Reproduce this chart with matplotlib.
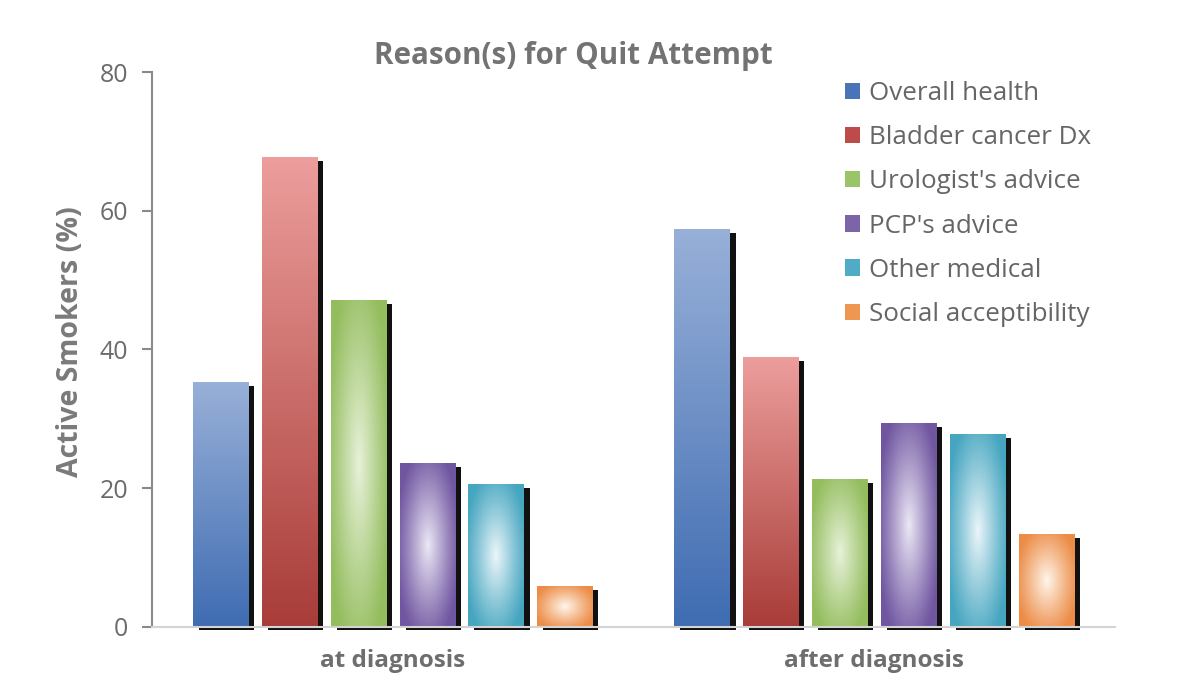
import numpy as np
import matplotlib
matplotlib.use("Agg")
import matplotlib.pyplot as plt
from matplotlib.patches import Rectangle, Patch

# ---- data ----
groups = ["at diagnosis", "after diagnosis"]
series = ["Overall health", "Bladder cancer Dx", "Urologist's advice",
          "PCP's advice", "Other medical", "Social acceptibility"]
at_diagnosis = [35.2, 67.7, 47.1, 23.5, 20.5, 5.8]
after_diagnosis = [57.3, 38.8, 21.2, 29.3, 27.7, 13.3]
yticks = [0, 20, 40, 60, 80]

# ---- styles ----
# (kind, colorA, colorB): linear -> (top, bottom); radial -> (edge, center)
styles = [
    ("linear", (152, 176, 216), (63, 108, 178)),
    ("linear", (236, 158, 156), (168, 60, 56)),
    ("radial", (148, 189, 94), (232, 242, 218)),
    ("radial", (112, 86, 160), (236, 232, 246)),
    ("radial", (70, 166, 192), (236, 246, 250)),
    ("radial", (236, 140, 70), (255, 246, 236)),
]
legend_cols = ["#4a74b8", "#bd4b49", "#9ac46a", "#7c64a8", "#4fabc6", "#ee9752"]

plt.rcParams['font.family'] = ['Open Sans', 'DejaVu Sans']

fig = plt.figure(figsize=(12, 6.89), dpi=100)
ax = fig.add_axes([0.1267, 0.09, 0.8023, 0.8055])


def grad_img(kind, ca, cb, ny=200, nx=60):
    ca = np.array(ca) / 255.0
    cb = np.array(cb) / 255.0
    yy, xx = np.mgrid[0:1:ny * 1j, 0:1:nx * 1j]
    if kind == "linear":
        t = yy[..., None]  # 0 top -> 1 bottom
        img = ca * (1 - t) + cb * t
    else:
        r = np.sqrt(((xx - 0.5) / 0.58) ** 2 + ((yy - 0.5) / 0.62) ** 2)
        w = np.clip(1 - r, 0, 1) ** 1.1
        w = w[..., None]
        img = ca * (1 - w) + cb * w
    return img


step = 0.143
width = 0.1146
dx_sh = 6 / 480.0
dy_sh = 3.5 / 6.94
for gi, vals in enumerate([at_diagnosis, after_diagnosis]):
    for si, v in enumerate(vals):
        xc = gi + (si - 2.5) * step
        x0, x1 = xc - width / 2, xc + width / 2
        sh = Rectangle((x0 + dx_sh, -dy_sh), width, v, facecolor="#111111",
                       edgecolor="none", zorder=2, clip_on=False)
        ax.add_patch(sh)
        kind, ca, cb = styles[si]
        img = grad_img(kind, ca, cb)
        ax.imshow(img, extent=(x0, x1, 0, v), aspect="auto", zorder=3,
                  interpolation="bilinear")

ax.set_xlim(-0.5, 1.5)
ax.set_ylim(0, 80)
ax.set_yticks(yticks)
ax.set_xticks([0, 1])
ax.set_xticklabels(groups, fontsize=17.5, fontweight="bold", color="#6e6e6e")
ax.tick_params(axis="x", length=0, pad=16)
ax.tick_params(axis="y", length=7, width=1.5, color="#8a8a8a",
               labelsize=18, labelcolor="#6b6b6b", pad=10)
for s in ["top", "right"]:
    ax.spines[s].set_visible(False)
ax.spines["left"].set_color("#8a8a8a")
ax.spines["left"].set_linewidth(1.5)
ax.spines["bottom"].set_color("#d4d4d4")
ax.spines["bottom"].set_linewidth(1.5)
ax.spines["bottom"].set_zorder(4)

ax.set_ylabel("Active Smokers (%)", fontsize=20.5, fontweight="bold",
              color="#7a7a7a")
ax.yaxis.set_label_coords(-0.07, 0.515)
fig.text(0.478, 0.918, "Reason(s) for Quit Attempt", fontsize=21.3,
         fontweight="bold", color="#737373", ha="center", va="center")

handles = [Patch(facecolor=c, edgecolor="none") for c in legend_cols]
leg = ax.legend(handles, series, loc="upper left", bbox_to_anchor=(0.695, 1.026),
                frameon=False, fontsize=18.7, handlelength=0.6,
                handleheight=0.6, handletextpad=0.35, labelspacing=0.74,
                labelcolor="#666666")

fig.savefig("out.png", dpi=100, facecolor="white")
